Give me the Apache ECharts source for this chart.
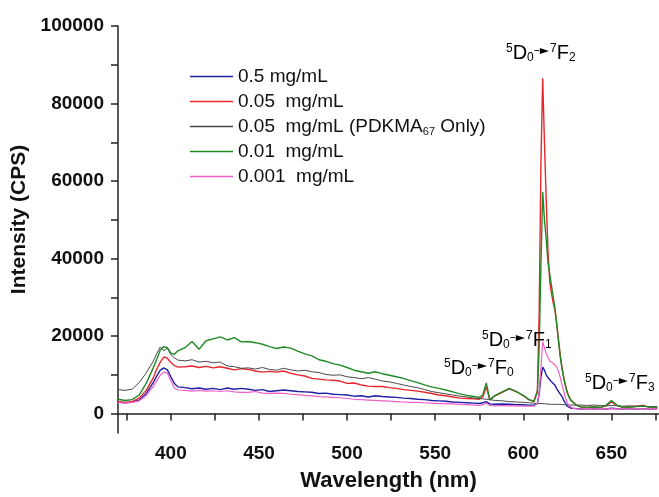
<!DOCTYPE html>
<html>
<head>
<meta charset="utf-8">
<script src="https://cdn.jsdelivr.net/npm/echarts@6/dist/echarts.min.js"></script>
<style>
  body, html { margin: 0; padding: 0; width: 100%; height: 100%; overflow: hidden; background: #fff; }
  #chart { width: 659px; height: 497px; }
</style>
</head>
<body>
<div id="chart"></div>
<script>
// wavelength (nm), shared by all spectra
var wavelength = [
  370,374,378,382,386,390,392,394,396,398,400,402,404,
  408,412,416,420,424,428,432,436,440,444,448,452,456,460,464,468,472,476,480,
  484,488,492,496,500,504,508,512,516,520,524,528,532,536,540,544,548,552,556,560,
  564,568,572,
  575,577,579,581,584,588,592,596,600,603,606,
  607,608,609,610,611,612,613,614,615,616,617,618,619,620,621,622,623,624,625,626,627,628,
  630,633,636,640,644,647,650,653,656,660,664,668,672,676
];

var blue = [
  3000,2800,3000,3500,5200,8000,9700,11200,11800,11300,9500,7800,6900,
  6700,6400,6600,6300,6500,6200,6600,6300,6500,6300,6000,6200,5700,5900,6100,5900,5700,5600,5500,
  5200,5300,5000,4900,4800,4500,4600,4300,4600,4400,4300,4200,4000,3900,3700,3600,3400,3300,3200,3000,
  2900,2800,2700,
  2600,2800,3100,2500,2400,2500,2400,2300,2300,2200,2200,
  2300,2600,5000,9500,12000,11200,10000,9300,8800,8200,7800,7300,6400,5700,5000,4400,3400,2600,1900,1600,1400,1300,
  1300,1200,1300,1200,1300,1200,1400,1300,1200,1300,1200,1300,1200,1300
];

var red = [
  3100,2900,3100,4000,6000,9200,11500,13300,14600,14300,13200,12400,12000,
  12100,12300,11900,12200,11800,12100,11700,11300,11600,11400,11000,10700,10900,10700,11000,10400,10000,9700,9100,
  8900,8700,8600,8400,7800,7900,7400,7100,7000,7000,6700,6500,6200,6000,5800,5500,5200,4800,4600,4300,
  4000,3900,3800,
  3700,4300,6900,3500,4600,5500,6400,5700,4600,3600,3200,
  3400,6000,25900,64600,86500,70000,55000,42000,34000,31000,28500,26500,23000,19000,15000,11800,9200,7200,5500,4300,3500,3000,
  2200,1700,1600,1800,1600,2000,3000,2200,1700,1700,1900,2100,1600,1500
];

var gray = [
  6200,6000,6300,8000,10500,13500,15500,17200,16200,16900,15200,14400,13800,
  13600,13900,13300,13500,13100,13300,12300,12100,11700,11800,11500,11900,11400,11200,11700,11300,11000,11200,10800,
  10600,10100,9900,10000,9500,9300,9000,9300,8900,8400,8200,7800,7400,7000,6700,6200,5700,5400,5100,4800,
  4500,4300,4000,
  3900,3800,3700,3600,3400,3300,3100,3000,2900,2800,2700,
  2600,2650,2550,2600,2500,2550,2500,2450,2500,2400,2450,2400,2350,2400,2300,2350,2300,2250,2300,2200,2250,2200,
  2200,2200,2100,2200,2100,2000,2100,2000,1900,2000,1900,1850,1800,1850
];

var green = [
  3700,3400,3600,4800,7800,11800,14000,16400,17300,17000,15600,15300,16200,
  17000,18600,16600,18800,19300,19800,19000,19600,18500,18600,18300,17900,17300,16800,17200,16900,16100,15400,14900,
  13900,13500,12900,12500,11900,11200,10800,10400,10800,10300,9900,9500,9100,8500,8000,7400,6900,6500,6100,5600,
  5100,4700,4400,
  4200,4800,7900,3600,4700,5600,6500,5700,4700,3700,3100,
  3300,5500,17000,38000,57200,50000,45000,39000,36000,33000,30000,27000,23000,18500,14500,11500,9000,7000,5300,4200,3400,2900,
  2200,1700,1600,1700,1600,2200,3400,2200,1700,1600,1800,2000,1600,1600
];

var pink = [
  2900,2700,2900,3300,4700,7000,8500,9900,10700,10500,8500,6600,6100,
  6000,5800,6000,5800,5900,5700,5900,5600,5500,5500,5700,5300,5200,5300,5200,5000,4900,4700,4600,
  4400,4300,4200,4100,3900,3700,3600,3500,3400,3300,3200,3100,3000,2900,2900,2800,2700,2600,2600,2500,
  2400,2300,2200,
  2100,2300,2700,2100,2000,2100,2000,2000,1900,1900,1900,
  2000,2600,5500,12000,18500,17000,15500,14500,13600,13100,13000,12600,12000,10900,9200,7300,5700,4000,2700,2000,1600,1400,
  1300,1200,1300,1200,1300,1200,1300,1200,1300,1200,1300,1200,1300,1200
];

var seriesNames = ['0.5 mg/mL', '0.05  mg/mL', '0.05  mg/mL (PDKMA67 Only)', '0.01  mg/mL', '0.001  mg/mL'];
var seriesValues = [blue, red, gray, green, pink];
var seriesColors = ['#1f1fa3', '#e8262c', '#4a4a4a', '#1f8a26', '#f25fc8'];
var seriesWidths = [1.4, 1.4, 1, 1.4, 1.2];

var xTicks = [375, 400, 425, 450, 475, 500, 525, 550, 575, 600, 625, 650, 675];
var xLabels = [400, 450, 500, 550, 600, 650];
var yTicks = [0, 10000, 20000, 30000, 40000, 50000, 60000, 70000, 80000, 90000, 100000];
var yLabels = [0, 20000, 40000, 60000, 80000, 100000];

var FONT = '"Liberation Sans", Arial, sans-serif';

var series = seriesNames.map(function (name, k) {
  return {
    name: name,
    type: 'line',
    symbol: 'none',
    animation: false,
    data: wavelength.map(function (w, i) { return [w, seriesValues[k][i]]; }),
    lineStyle: { color: seriesColors[k], width: seriesWidths[k] },
    itemStyle: { color: seriesColors[k] }
  };
});

function label(sub) {
  return '{sup|5}{n|D}{sub|0}{ar|–►}{sup|7}{n|F}{sub|' + sub + '}';
}
var labelRich = {
  n: { fontSize: 20, fontFamily: FONT, color: '#111' },
  sup: { fontSize: 12, fontFamily: FONT, color: '#111', padding: [0, 0, 9, 0] },
  sub: { fontSize: 12, fontFamily: FONT, color: '#111', padding: [10, 0, 0, 0] },
  ar: { fontSize: 12, fontFamily: '"DejaVu Sans"', color: '#111', padding: [0, 1, 4, 0] }
};
var notes = [
  { t: '2', x: 506, y: 53 },
  { t: '1', x: 482, y: 340 },
  { t: '0', x: 444, y: 368 },
  { t: '3', x: 585, y: 383 }
];

var chart = echarts.init(document.getElementById('chart'));
chart.setOption({
  backgroundColor: '#fff',
  animation: false,
  grid: { left: 118, right: 0, top: 26, bottom: 64 },
  legend: {
    orient: 'vertical',
    left: 185,
    top: 59,
    icon: 'rect',
    itemWidth: 43,
    itemHeight: 1.6,
    itemGap: 0,
    data: seriesNames,
    formatter: function (name) { return name.replace('PDKMA67', 'PDKMA{sub|67}'); },
    textStyle: {
      fontFamily: FONT, fontSize: 19, lineHeight: 25, color: '#111',
      rich: { sub: { fontSize: 11, fontFamily: FONT, color: '#111', lineHeight: 25, padding: [10, 0, 0, 0] } }
    }
  },
  xAxis: {
    type: 'value',
    min: 370,
    max: 677,
    name: 'Wavelength (nm)',
    nameLocation: 'middle',
    nameGap: 37,
    nameTextStyle: { fontFamily: FONT, fontSize: 22, fontWeight: 'bold', color: '#111' },
    axisLine: { lineStyle: { color: '#222', width: 1.5 } },
    axisTick: { length: 7, customValues: xTicks, lineStyle: { color: '#222', width: 1.5 } },
    axisLabel: { customValues: xLabels, margin: 11, fontFamily: FONT, fontSize: 19, fontWeight: 'bold', color: '#111' },
    splitLine: { show: false }
  },
  yAxis: {
    type: 'value',
    min: -5000,
    max: 100000,
    name: 'Intensity (CPS)',
    nameLocation: 'middle',
    nameGap: 87,
    nameTextStyle: { fontFamily: FONT, fontSize: 21, fontWeight: 'bold', color: '#111', padding: [0, 0, 0, 20] },
    axisLine: { show: true, lineStyle: { color: '#222', width: 1.5 } },
    axisTick: { show: true, length: 7, customValues: yTicks, lineStyle: { color: '#222', width: 1.5 } },
    axisLabel: {
      customValues: yLabels, margin: 14, fontFamily: FONT, fontSize: 19, fontWeight: 'bold', color: '#111',
      formatter: function (v) { return String(v); }
    },
    splitLine: { show: false }
  },
  graphic: notes.map(function (n) {
    return {
      type: 'text',
      x: n.x,
      y: n.y,
      z: 100,
      style: { text: label(n.t), rich: labelRich, align: 'left', verticalAlign: 'middle', font: '20px ' + FONT }
    };
  }),
  series: series
});
</script>
</body>
</html>
